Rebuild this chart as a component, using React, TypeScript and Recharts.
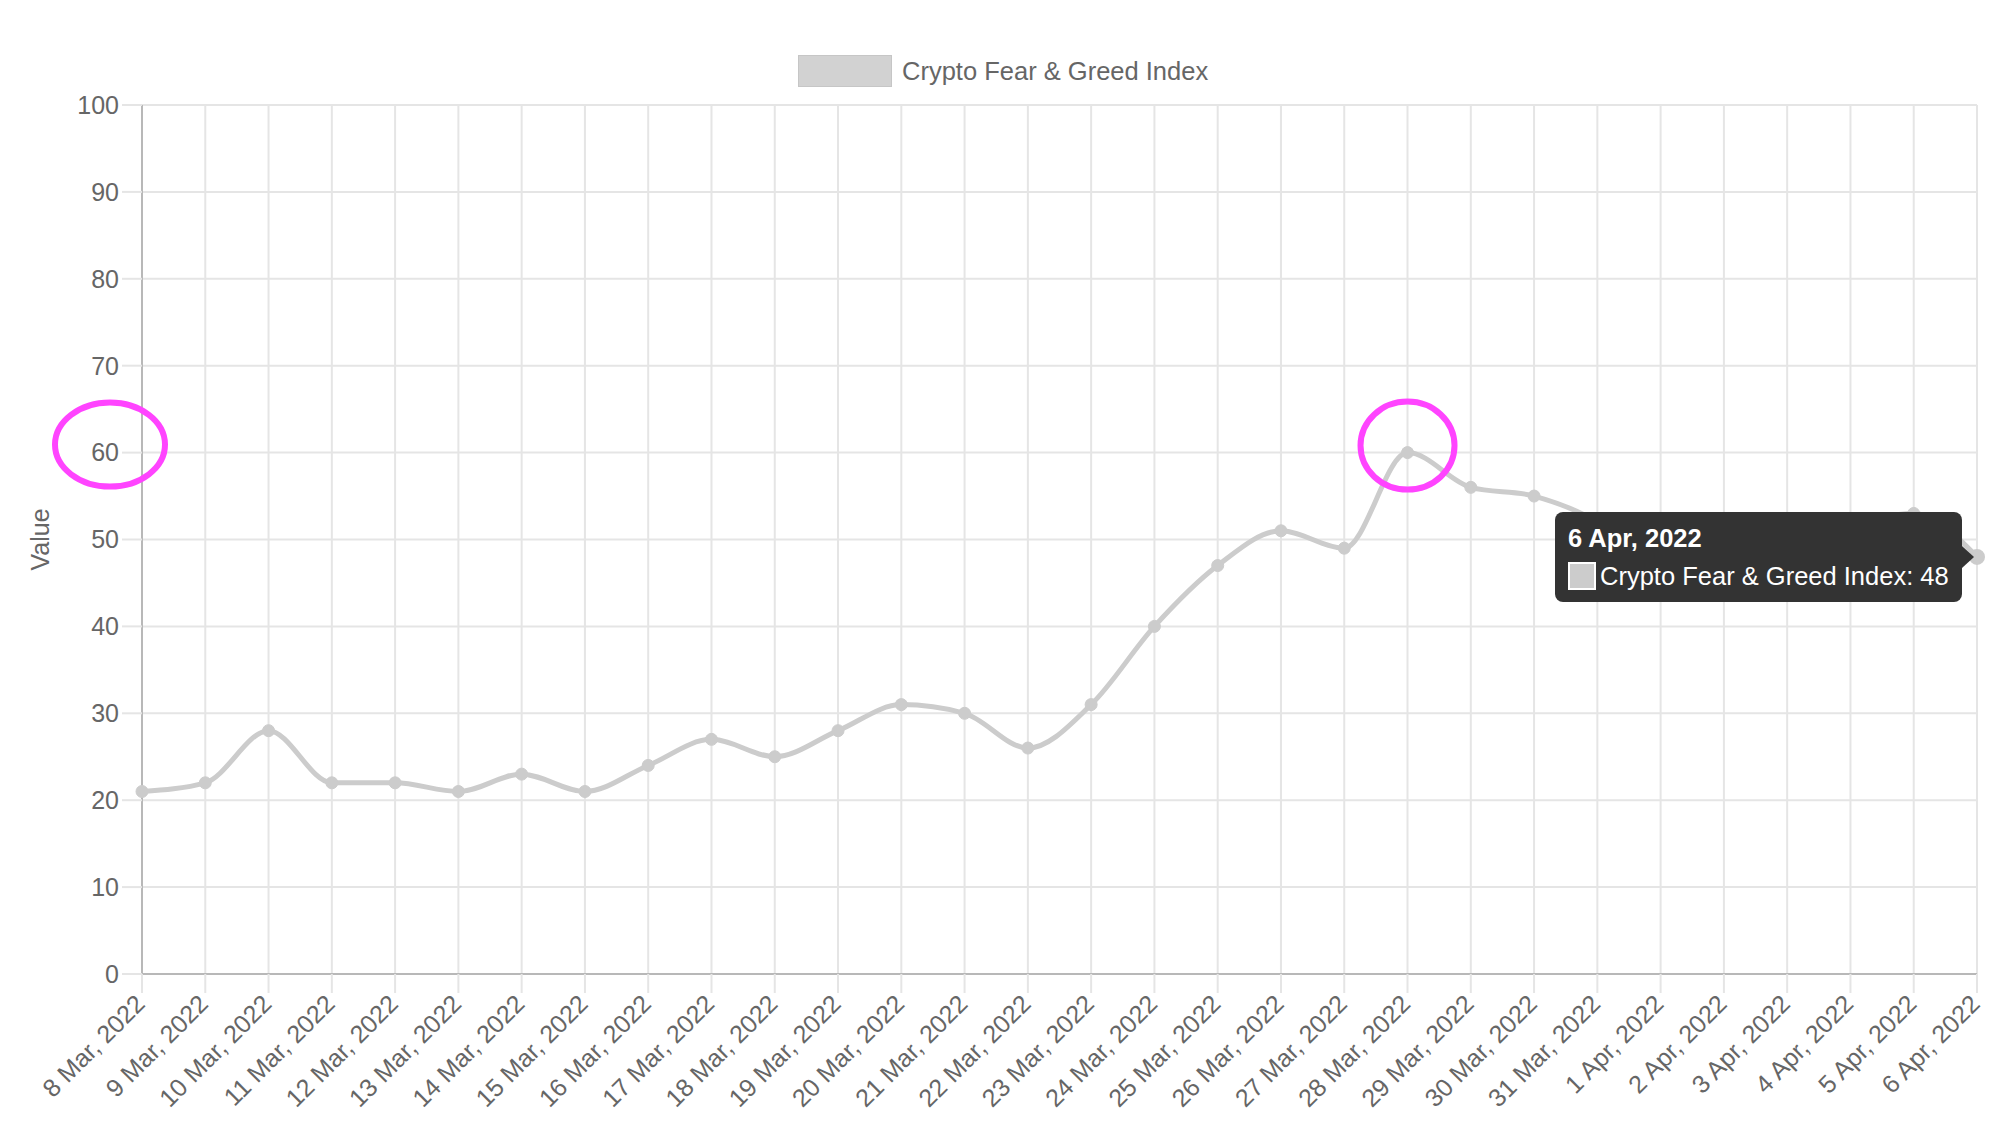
import React from "react";
import {
  LineChart,
  Line,
  XAxis,
  YAxis,
  CartesianGrid,
  Tooltip,
  ReferenceDot,
} from "recharts";

const dates = [
  "8 Mar, 2022", "9 Mar, 2022", "10 Mar, 2022", "11 Mar, 2022", "12 Mar, 2022",
  "13 Mar, 2022", "14 Mar, 2022", "15 Mar, 2022", "16 Mar, 2022", "17 Mar, 2022",
  "18 Mar, 2022", "19 Mar, 2022", "20 Mar, 2022", "21 Mar, 2022", "22 Mar, 2022",
  "23 Mar, 2022", "24 Mar, 2022", "25 Mar, 2022", "26 Mar, 2022", "27 Mar, 2022",
  "28 Mar, 2022", "29 Mar, 2022", "30 Mar, 2022", "31 Mar, 2022", "1 Apr, 2022",
  "2 Apr, 2022", "3 Apr, 2022", "4 Apr, 2022", "5 Apr, 2022", "6 Apr, 2022",
];

const fearGreed = [
  21, 22, 28, 22, 22, 21, 23, 21, 24, 27,
  25, 28, 31, 30, 26, 31, 40, 47, 51, 49,
  60, 56, 55, 52, 46, 50, 51, 52, 53, 48,
];

const yTicks = [0, 10, 20, 30, 40, 50, 60, 70, 80, 90, 100];

const seriesName = "Crypto Fear & Greed Index";

const data = dates.map((d, i) => ({ date: d, value: fearGreed[i] }));

const FONT = '"Liberation Sans", Arial, Helvetica, sans-serif';
const LINE_GREY = "#cccccc";
const MAGENTA = "#ff44ff";

// rotated date labels, text end hanging off the tick like chart.js does it
function DateTick(props: any) {
  const { x, y, payload } = props;
  return (
    <g transform={`translate(${x},${y})`}>
      <text
        transform="rotate(-45)"
        textAnchor="end"
        dy="0.25em"
        fill="#666"
        fontSize={25}
        fontFamily={FONT}
      >
        {payload.value}
      </text>
    </g>
  );
}

function TooltipBox(props: any) {
  const { active, payload, label } = props;
  if (!active || !payload || !payload.length) return null;
  return (
    <div
      style={{
        position: "relative",
        width: 407,
        height: 90,
        boxSizing: "border-box",
        padding: "11px 13px",
        background: "#333",
        borderRadius: 8,
        color: "#fff",
        fontFamily: FONT,
        fontSize: 25.5,
        lineHeight: "30px",
        whiteSpace: "nowrap",
      }}
    >
      <div style={{ fontWeight: "bold" }}>{label}</div>
      <div style={{ display: "flex", alignItems: "center", marginTop: 8 }}>
        <span
          style={{
            display: "inline-block",
            width: 24,
            height: 24,
            background: LINE_GREY,
            border: "2px solid #fff",
            marginRight: 4,
          }}
        />
        <span>
          {payload[0].name}: {payload[0].value}
        </span>
      </div>
      <div
        style={{
          position: "absolute",
          right: -12,
          top: 34,
          width: 0,
          height: 0,
          borderTop: "11px solid transparent",
          borderBottom: "11px solid transparent",
          borderLeft: "12px solid #333",
        }}
      />
    </div>
  );
}

const ring = (dx: number, dy: number, rx: number, ry: number) => (p: any) => (
  <ellipse
    cx={p.cx + dx}
    cy={p.cy + dy}
    rx={rx}
    ry={ry}
    fill="none"
    stroke={MAGENTA}
    strokeWidth={6}
  />
);

export default function App() {
  return (
    <div
      style={{
        position: "absolute",
        left: 0,
        top: 0,
        width: 1999,
        height: 1121,
        background: "#fff",
        fontFamily: FONT,
      }}
    >
      <div
        style={{
          position: "absolute",
          left: 798,
          top: 55,
          display: "flex",
          alignItems: "center",
          height: 32,
          color: "#666",
          fontSize: 25.5,
          whiteSpace: "nowrap",
        }}
      >
        <span
          style={{
            display: "inline-block",
            width: 92,
            height: 30,
            background: "#d2d2d2",
            border: "1px solid #c6c6c6",
            marginRight: 10,
          }}
        />
        {seriesName}
      </div>
      <LineChart
        width={1999}
        height={1121}
        data={data}
        margin={{ top: 105, right: 22, bottom: 0, left: 0 }}
      >
        <CartesianGrid stroke="#e5e5e5" strokeWidth={2} />
        <XAxis
          dataKey="date"
          interval={0}
          height={147}
          tickSize={19}
          tickMargin={8}
          tick={<DateTick />}
          tickLine={{ stroke: "#e5e5e5", strokeWidth: 2 }}
          axisLine={{ stroke: "#b8b8b8", strokeWidth: 2 }}
        />
        <YAxis
          width={142}
          domain={[0, 100]}
          ticks={yTicks}
          interval={0}
          tickSize={20}
          tickMargin={3}
          tick={{ fill: "#666", fontSize: 25, fontFamily: FONT }}
          tickLine={{ stroke: "#e5e5e5", strokeWidth: 2 }}
          axisLine={{ stroke: "#b8b8b8", strokeWidth: 2 }}
          label={{
            value: "Value",
            angle: -90,
            position: "insideLeft",
            offset: 40,
            style: { textAnchor: "middle", fill: "#666", fontSize: 25, fontFamily: FONT },
          }}
        />
        <Tooltip
          active
          defaultIndex={29}
          cursor={false}
          position={{ x: 1555, y: 512 }}
          isAnimationActive={false}
          content={<TooltipBox />}
          wrapperStyle={{ outline: "none", zIndex: 10 }}
        />
        <Line
          type="monotone"
          dataKey="value"
          name={seriesName}
          stroke={LINE_GREY}
          strokeWidth={5}
          dot={{ r: 6, fill: LINE_GREY, stroke: LINE_GREY, strokeWidth: 1 }}
          activeDot={{ r: 7, fill: LINE_GREY, stroke: LINE_GREY }}
          isAnimationActive={false}
        />
        <ReferenceDot
          x="8 Mar, 2022"
          y={60}
          ifOverflow="visible"
          shape={ring(-32, -8, 55, 42)}
        />
        <ReferenceDot
          x="28 Mar, 2022"
          y={60}
          ifOverflow="visible"
          shape={ring(0, -7, 47, 44)}
        />
      </LineChart>
    </div>
  );
}
